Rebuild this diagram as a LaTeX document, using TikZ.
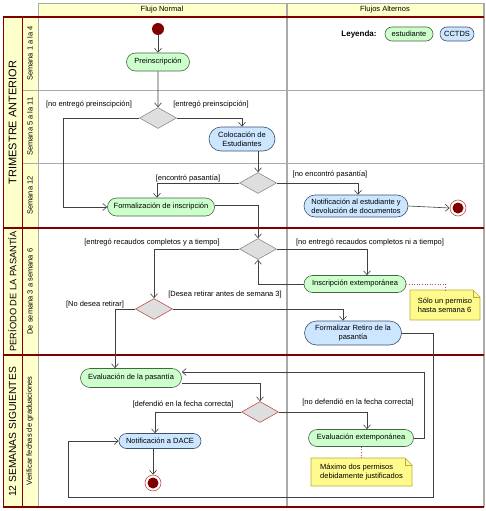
\documentclass[tikz,border=0pt]{standalone}
\usepackage{fontspec}
\setmainfont{Liberation Sans}
\usetikzlibrary{shapes.misc}
\usetikzlibrary{shapes.geometric}
\usetikzlibrary{arrows.meta}
\usetikzlibrary{positioning}
\definecolor{granate}{RGB}{128,0,0}
\definecolor{amarillo}{RGB}{255,255,204}
\definecolor{gristabla}{RGB}{170,170,170}
\definecolor{verdeclaro}{RGB}{204,255,204}
\definecolor{verdeborde}{RGB}{70,100,70}
\definecolor{azulclaro}{RGB}{204,230,255}
\definecolor{azulborde}{RGB}{60,80,110}
\definecolor{grisdecision}{RGB}{222,222,222}
\definecolor{rojoborde}{RGB}{190,80,80}
\definecolor{notafondo}{RGB}{255,250,140}
\definecolor{notaborde}{RGB}{190,170,60}
\newcommand{\letra}{\fontsize{7.5}{9}\selectfont}
\tikzset{
  flujo/.style={draw=black!75, line width=0.6pt, -{Straight Barb[length=4pt,width=7pt]}},
  punteado/.style={draw=rojoborde, line width=0.6pt, dotted},
  estud/.style={rounded rectangle, draw=verdeborde, fill=verdeclaro, font=\letra,
    inner sep=1pt, align=center, line width=0.6pt},
  cctds/.style={rounded rectangle, draw=azulborde, fill=azulclaro, font=\letra,
    inner sep=1pt, align=center, line width=0.6pt},
  decision/.style={diamond, draw=black!45, fill=grisdecision, minimum width=37pt,
    minimum height=21pt, inner sep=0pt, line width=0.6pt},
  decisionroja/.style={decision, draw=rojoborde},
  inicio/.style={circle, fill=granate, minimum size=12pt, inner sep=0pt},
  fin/.style={circle, draw=rojoborde, fill=white, minimum size=16pt, inner sep=0pt,
    line width=0.6pt, path picture={\fill[granate] (path picture bounding box.center) circle (5.5pt);}},
  guarda/.style={font=\letra, inner sep=0pt},
  notatexto/.style={font=\letra, align=left, inner sep=0pt},
  carril/.style={rotate=90, inner sep=0pt},
  subcarril/.style={font=\letra, rotate=90, inner sep=0pt},
}

\begin{document}
\begin{tikzpicture}[x=1pt,y=-1pt]
        \useasboundingbox (0,0) rectangle (486,511);

        % fondo de la tabla
        \fill[amarillo] (38,3) rectangle (484,17);
        \foreach \ya/\yb in {17/228, 228/355, 355/507} {
                \fill[amarillo] (3,\ya) rectangle (38,\yb);
        }
        \draw[gristabla, line width=0.8pt] (38,3) -- (484,3);
        \draw[gristabla, line width=0.8pt] (22,90) -- (484,90);
        \draw[gristabla, line width=0.8pt] (22,163) -- (484,163);
        \draw[gristabla, line width=0.8pt] (38,17) -- (38,507);
        \draw[gristabla, line width=1.5pt] (287,3) -- (287,507);
        \draw[gristabla, line width=1.5pt] (484,3) -- (484,507);
        \draw[gristabla, line width=0.8pt] (38,3) -- (38,17);
        \foreach \ya/\yb in {17/228, 228/355, 355/507} {
                \draw[granate, line width=1pt] (3,\ya) rectangle (22,\yb);
                \draw[granate, line width=1.6pt] (3,\yb) -- (484,\yb);
        }
        \draw[granate, line width=1.2pt] (3,17) -- (484,17);

        \node[font=\letra] (cabnormal) at (162,10) {Flujo Normal};
        \node[font=\letra] (cabalt) at (385,10) {Flujos Alternos};

        \node[carril, font=\fontsize{11}{13}\selectfont] (trim) at (12.5,122.5) {TRIMESTRE ANTERIOR};
        \node[carril, font=\fontsize{9.3}{11}\selectfont] (periodo) at (12.5,291.5) {PERÍODO DE LA PASANTÍA};
        \node[carril, font=\fontsize{10.3}{12}\selectfont] (sigu) at (12.5,432) {12 SEMANAS SIGUIENTES};
        \node[subcarril] (sem1) at (30,53.5) {Semana 1 a la 4};
        \node[subcarril] (sem5) at (30,126.5) {Semana 5 a la 11};
        \node[subcarril] (sem12) at (30,195.5) {Semana 12};
        \node[subcarril] (sem3) at (30,291.5) {De semana 3 a semana 6};
        \node[subcarril] (verif) at (30,431) {Verificar fechas de graduaciones};

        % leyenda
        \node[font=\fontsize{8}{10}\selectfont\bfseries, inner sep=0pt] (leyenda) at (359,34) {Leyenda:};
        \node[estud, minimum width=50pt, minimum height=14pt] (leyest) at (409,34) {estudiante};
        \node[cctds, minimum width=36pt, minimum height=14pt] (leycc) at (457,34) {CCTDS};

        % actividades
        \node[inicio] (ini) at (158,29) {};
        \node[estud, minimum width=65pt, minimum height=18pt] (pre) at (158,62) {Preinscripción};
        \node[decision] (d1) at (158,118) {};
        \node[cctds, minimum width=68pt, minimum height=24pt] (coloc) at (242,139) {Colocación de\\Estudiantes};
        \node[decision] (d2) at (258,183) {};
        \node[estud, minimum width=109pt, minimum height=18pt] (form) at (161,207) {Formalización de inscripción};
        \node[cctds, minimum width=106pt, minimum height=22pt] (notif) at (356,206) {Notificación al estudiante y\\devolución de documentos};
        \node[fin] (fin1) at (458,208) {};
        \node[decision] (d3) at (258,249) {};
        \node[estud, minimum width=104pt, minimum height=17pt] (insc) at (355,284) {Inscripción extemporánea};
        \node[decisionroja] (d4) at (154,309) {};
        \node[cctds, minimum width=99pt, minimum height=24pt] (retiro) at (353,333) {Formalizar Retiro de la\\pasantía};
        \node[estud, minimum width=103pt, minimum height=19pt] (eval) at (131,378) {Evaluación de la pasantía};
        \node[decisionroja] (d5) at (260,412) {};
        \node[estud, minimum width=107pt, minimum height=17pt] (evalext) at (361,438) {Evaluación extemponánea};
        \node[cctds, minimum width=84pt, minimum height=15pt] (dace) at (160,441) {Notificación a DACE};
        \node[fin] (fin2) at (153,483) {};

        % notas
        \draw[notaborde, fill=notafondo, line width=0.6pt] (410,290) -- (473,290) -- (480,297) -- (480,320) -- (410,320) -- cycle;
        \draw[notaborde, line width=0.6pt] (473,290) |- (480,297);
        \node[notatexto, minimum width=70pt, minimum height=30pt] (nota1) at (445,305) {Sólo un permiso\\hasta semana 6};
        \draw[notaborde, fill=notafondo, line width=0.6pt] (311,458) -- (405,458) -- (412,465) -- (412,486) -- (311,486) -- cycle;
        \draw[notaborde, line width=0.6pt] (405,458) |- (412,465);
        \node[notatexto, minimum width=101pt, minimum height=28pt] (nota2) at (361.5,472) {Máximo dos permisos\\debidamente justificados};

        % guardas
        \node[guarda] (g1) at (89,105) {[no entregó preinscipción]};
        \node[guarda] (g2) at (211,105) {[entregó preinscipción]};
        \node[guarda] (g3) at (188,179) {[encontró pasantía]};
        \node[guarda] (g4) at (330,175) {[no encontró pasantía]};
        \node[guarda] (g5) at (152,243) {[entregó recaudos completos y a tiempo]};
        \node[guarda] (g6) at (370,243) {[no entregó recaudos completos ni a tiempo]};
        \node[guarda] (g7) at (225,295) {[Desea retirar antes de semana 3]};
        \node[guarda] (g8) at (95,305) {[No desea retirar]};
        \node[guarda] (g9) at (183,405) {[defendió en la fecha correcta]};
        \node[guarda] (g10) at (358,403) {[no defendió en la fecha correcta]};

        % flujos
        \coordinate (esqder) at (433,497);
        \coordinate (esqizq) at (68,497);
        \draw[flujo] (ini) -- (pre);
        \draw[flujo] (pre) -- (d1);
        \draw[flujo] (d1.west) -| ([xshift=-44pt]form.west) -- (form.west);
        \draw[flujo] (d1.east) -| (coloc.north);
        \draw[flujo] (coloc.south -| d2.north) -- (d2.north);
        \draw[flujo] (d2.west) -| ([xshift=-4pt]form.north);
        \draw[flujo] (d2.east) -| ([xshift=2pt]notif.north);
        \draw[flujo] ([yshift=2pt]form.east) -| (d3.north);
        \draw[flujo] (notif.east) -- (fin1.west);
        \draw[flujo] (d3.west) -| (d4.north);
        \draw[flujo] (d3.east) -| ([xshift=12pt]insc.north);
        \draw[flujo] (insc.west) -| (d3.south);
        \draw[punteado] (insc.east) -| (nota1.north);
        \draw[flujo] (d4.east) -| ([xshift=-10pt]retiro.north);
        \draw[flujo] (d4.west) -| ([xshift=-16pt]eval.north);
        \draw[flujo] (retiro.east) -| (esqder) -- (esqizq) |- (dace.west);
        \draw[flujo] ([yshift=-5pt]eval.east) -| (d5.north);
        \draw[flujo] (evalext.east) -- ++(10,0) |- ([yshift=6pt]eval.east);
        \draw[flujo] (d5.west) -| ([xshift=-5pt]dace.north);
        \draw[flujo] (d5.east) -| ([xshift=6pt]evalext.north);
        \draw[punteado] (evalext.south) -- (evalext.south |- nota2.north);
        \draw[flujo] (dace.south -| fin2.north) -- (fin2.north);

\end{tikzpicture}
\end{document}
